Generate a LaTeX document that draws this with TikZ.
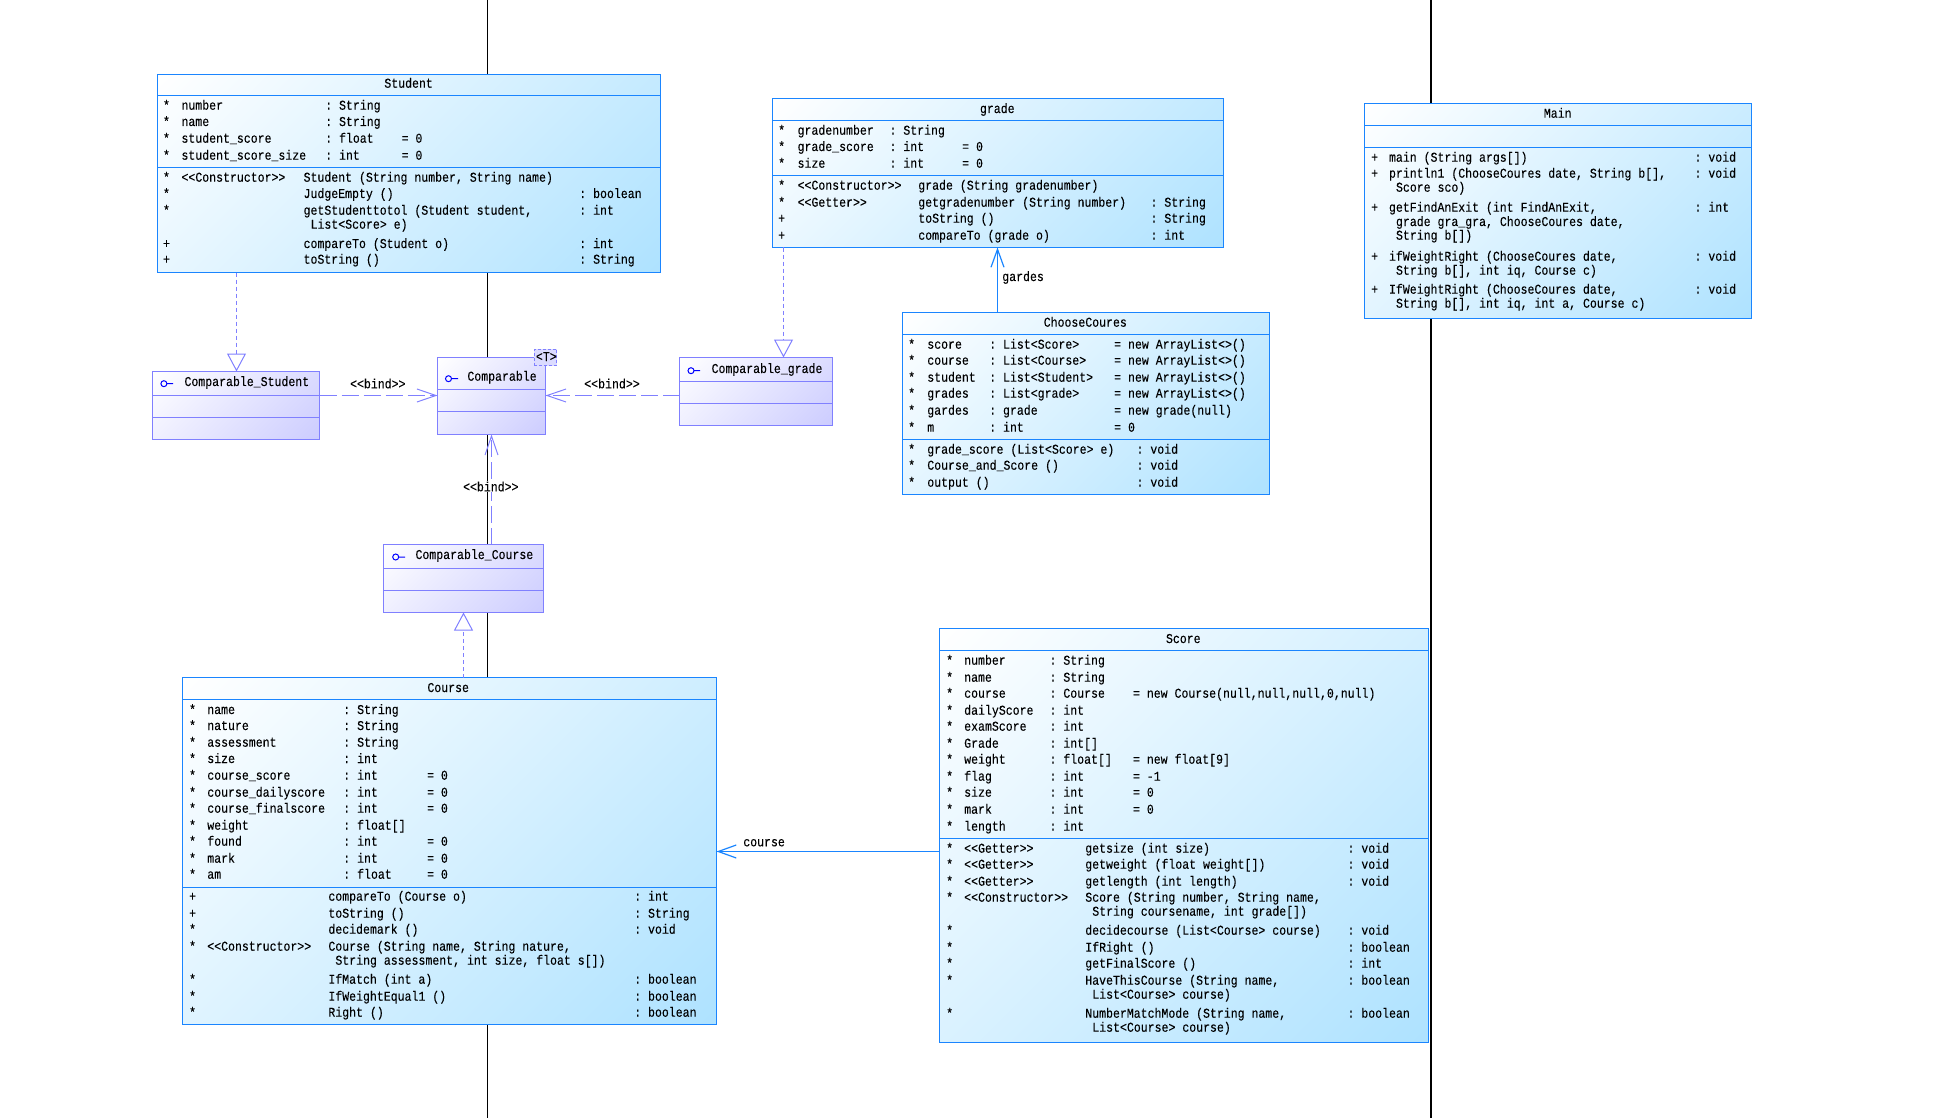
\documentclass[tikz,border=0pt]{standalone}
\usepackage{fontspec}
\setmonofont[FakeStretch=0.855,FakeBold=0.08]{Liberation Mono}
\usetikzlibrary{arrows.meta}
\definecolor{clsline}{HTML}{1A85FF}
\definecolor{clsend}{HTML}{AEE2FF}
\definecolor{ifline}{HTML}{8080FF}
\definecolor{ifend}{HTML}{CCCCFF}
\pgfdeclareverticalshading{clsgrad}{100bp}{color(0bp)=(clsend); color(14.6bp)=(clsend); color(85.4bp)=(white); color(100bp)=(white)}
\pgfdeclareverticalshading{ifgrad}{100bp}{color(0bp)=(ifend); color(14.6bp)=(ifend); color(85.4bp)=(white); color(100bp)=(white)}
\tikzset{
  lbl/.style={inner sep=0pt,outer sep=0pt,anchor=base west,text=black,font=\ttfamily\fontsize{13.5}{16}\selectfont},
  ttl/.style={lbl,anchor=base},
  boxbase/.style={rectangle,inner sep=0pt,outer sep=0pt,anchor=north west,line width=1.2pt},
  clsbox/.style={boxbase,draw=clsline,shading=clsgrad,shading angle=45},
  ifbox/.style={boxbase,draw=ifline,shading=ifgrad,shading angle=45},
  clssep/.style={line width=1.2pt,draw=clsline},
  ifsep/.style={line width=1.2pt,draw=ifline},
  lifeline/.style={black,line width=1.3pt},
  bindline/.style={ifline,line width=1pt,dash pattern=on 17pt off 5pt,-{Straight Barb[length=19pt,width=13pt]}},
  realline/.style={ifline,line width=1pt,dash pattern=on 4pt off 3pt,-{Triangle[open,length=18pt,width=19pt]}},
  assocline/.style={clsline,line width=1.2pt,-{Straight Barb[length=18pt,width=13pt]}},
  icon/.style={blue,line width=1pt},
}
\newcounter{lblc}
\newcommand{\tx}[3]{\stepcounter{lblc}\node[lbl] (l\arabic{lblc}) at (#1,#2) {#3};}
\newcommand{\ttlat}[3]{\stepcounter{lblc}\node[ttl] (l\arabic{lblc}) at (#1,#2) {#3};}
% box: name, box style, separator style, x1, x2, y1, y2, y3, y4
\newcommand{\umlbox}[9]{%
  \pgfmathsetmacro{\bw}{#5-#4}\pgfmathsetmacro{\bh}{#9-#6}%
  \node[#2,minimum width=\bw pt,minimum height=\bh pt] (#1) at (#4,#6) {};
  \draw[#3] (#1.west |- 0,#7) -- (#1.east |- 0,#7);
  \draw[#3] (#1.west |- 0,#8) -- (#1.east |- 0,#8);
}
\newcommand{\attr}[5]{\tx{\ca}{#1}{#2}\tx{\ce}{#1}{#3}\tx{\cb}{#1}{: #4}\def\tmp{#5}\ifx\tmp\empty\else\tx{\cd}{#1}{#5}\fi}
\newcommand{\meth}[5]{%
  \tx{\ca}{#1}{#2}%
  \def\tmp{#3}\ifx\tmp\empty\else\tx{\ce}{#1}{#3}\fi
  \tx{\cf}{#1}{#4}%
  \def\tmp{#5}\ifx\tmp\empty\else\tx{\cg}{#1}{#5}\fi}
\newcommand{\cont}[2]{\tx{\cf+7}{#1}{#2}}
\begin{document}
\begin{tikzpicture}[x=1pt,y=-1pt]
\useasboundingbox (0,0) rectangle (1941,1118);
\coordinate (topL) at (487.5,0);
\coordinate (botL) at (487.5,1118);
\coordinate (topR) at (1431.1,0);
\coordinate (botR) at (1431.1,1118);
\draw[lifeline] (topL) -- (botL);
\draw[lifeline] (topR) -- (botR);

% ---------- Student
\umlbox{student}{clsbox}{clssep}{157.5}{660.5}{74.5}{95.5}{167.5}{272.5}
\ttlat{408.6}{87.7}{Student}
\def\ca{163}\def\cb{325.2}\def\cd{401.6}\def\ce{181.5}\def\cf{303.6}\def\cg{579.3}
\attr{109.7}{*}{number}{String}{}
\attr{126}{*}{name}{String}{}
\attr{142.7}{*}{student\_score}{float}{= 0}
\attr{159.7}{*}{student\_score\_size}{int}{= 0}
\meth{181.7}{*}{<<Constructor>>}{Student (String number, String name)}{}
\meth{198}{*}{}{JudgeEmpty ()}{: boolean}
\meth{214.7}{*}{}{getStudenttotol (Student student,}{: int}
\cont{228.7}{List<Score> e)}
\meth{248}{+}{}{compareTo (Student o)}{: int}
\meth{263.7}{+}{}{toString ()}{: String}

% ---------- grade
\umlbox{grade}{clsbox}{clssep}{772.5}{1223.5}{98.5}{120.5}{175.5}{247.5}
\ttlat{997.3}{113}{grade}
\def\ca{778.2}\def\ce{797.6}\def\cb{889.5}\def\cd{962.2}\def\cf{918.3}\def\cg{1150.5}
\attr{134.7}{*}{gradenumber}{String}{}
\attr{151}{*}{grade\_score}{int}{= 0}
\attr{167.7}{*}{size}{int}{= 0}
\meth{189.7}{*}{<<Constructor>>}{grade (String gradenumber)}{}
\meth{206.7}{*}{<<Getter>>}{getgradenumber (String number)}{: String}
\meth{222.7}{+}{}{toString ()}{: String}
\meth{239.7}{+}{}{compareTo (grade o)}{: int}

% ---------- ChooseCoures
\umlbox{choose}{clsbox}{clssep}{902.5}{1269.5}{312.5}{334.5}{439.5}{494.5}
\ttlat{1085.3}{326.7}{ChooseCoures}
\def\ca{908.2}\def\ce{927.3}\def\cb{989.2}\def\cd{1114.2}\def\cf{927.3}\def\cg{1136.5}
\attr{348.7}{*}{score}{List<Score>}{= new ArrayList<>()}
\attr{364.7}{*}{course}{List<Course>}{= new ArrayList<>()}
\attr{381.7}{*}{student}{List<Student>}{= new ArrayList<>()}
\attr{397.7}{*}{grades}{List<grade>}{= new ArrayList<>()}
\attr{414.7}{*}{gardes}{grade}{= new grade(null)}
\attr{431.7}{*}{m}{int}{= 0}
\meth{453.7}{*}{}{grade\_score (List<Score> e)}{: void}
\meth{469.7}{*}{}{Course\_and\_Score ()}{: void}
\meth{486.7}{*}{}{output ()}{: void}

% ---------- Main
\umlbox{main}{clsbox}{clssep}{1364.5}{1751.5}{103.5}{125.5}{147.5}{318.5}
\ttlat{1557.7}{117.7}{Main}
\def\ca{1371.2}\def\cf{1389}\def\cg{1694.5}
\meth{161.7}{+}{}{main (String args[])}{: void}
\meth{177.7}{+}{}{println1 (ChooseCoures date, String b[],}{: void}
\cont{191.7}{Score sco)}
\meth{211.7}{+}{}{getFindAnExit (int FindAnExit,}{: int}
\cont{226}{grade gra\_gra, ChooseCoures date,}
\cont{239.7}{String b[])}
\meth{260.7}{+}{}{ifWeightRight (ChooseCoures date,}{: void}
\cont{274.7}{String b[], int iq, Course c)}
\meth{293.7}{+}{}{IfWeightRight (ChooseCoures date,}{: void}
\cont{307.7}{String b[], int iq, int a, Course c)}

% ---------- Course
\umlbox{course}{clsbox}{clssep}{182.5}{716.5}{677.5}{699.5}{887.5}{1024.5}
\ttlat{448.2}{692}{Course}
\def\ca{189.1}\def\ce{207.3}\def\cb{343.3}\def\cd{427.1}\def\cf{328.4}\def\cg{634.2}
\attr{714}{*}{name}{String}{}
\attr{730}{*}{nature}{String}{}
\attr{746.7}{*}{assessment}{String}{}
\attr{763}{*}{size}{int}{}
\attr{779.7}{*}{course\_score}{int}{= 0}
\attr{796.7}{*}{course\_dailyscore}{int}{= 0}
\attr{812.7}{*}{course\_finalscore}{int}{= 0}
\attr{829.7}{*}{weight}{float[]}{}
\attr{845.7}{*}{found}{int}{= 0}
\attr{862.7}{*}{mark}{int}{= 0}
\attr{878.7}{*}{am}{float}{= 0}
\meth{900.7}{+}{}{compareTo (Course o)}{: int}
\meth{917.7}{+}{}{toString ()}{: String}
\meth{933.7}{*}{}{decidemark ()}{: void}
\meth{950.7}{*}{<<Constructor>>}{Course (String name, String nature,}{}
\cont{964.7}{String assessment, int size, float s[])}
\meth{983.7}{*}{}{IfMatch (int a)}{: boolean}
\meth{1000.7}{*}{}{IfWeightEqual1 ()}{: boolean}
\meth{1016.7}{*}{}{Right ()}{: boolean}

% ---------- Score
\umlbox{score}{clsbox}{clssep}{939.5}{1428.5}{628.5}{650.5}{838.5}{1042.5}
\ttlat{1183.3}{643}{Score}
\def\ca{946.2}\def\ce{964.2}\def\cb{1049.5}\def\cd{1133}\def\cf{1085.3}\def\cg{1347.5}
\attr{664.7}{*}{number}{String}{}
\attr{681.7}{*}{name}{String}{}
\attr{697.7}{*}{course}{Course}{= new Course(null,null,null,0,null)}
\attr{714.7}{*}{dailyScore}{int}{}
\attr{730.7}{*}{examScore}{int}{}
\attr{747.7}{*}{Grade}{int[]}{}
\attr{763.7}{*}{weight}{float[]}{= new float[9]}
\attr{780.7}{*}{flag}{int}{= -1}
\attr{796.7}{*}{size}{int}{= 0}
\attr{813.7}{*}{mark}{int}{= 0}
\attr{830.7}{*}{length}{int}{}
\meth{852.7}{*}{<<Getter>>}{getsize (int size)}{: void}
\meth{868.7}{*}{<<Getter>>}{getweight (float weight[])}{: void}
\meth{885.7}{*}{<<Getter>>}{getlength (int length)}{: void}
\meth{901.7}{*}{<<Constructor>>}{Score (String number, String name,}{}
\cont{915.7}{String coursename, int grade[])}
\meth{934.7}{*}{}{decidecourse (List<Course> course)}{: void}
\meth{951.7}{*}{}{IfRight ()}{: boolean}
\meth{967.7}{*}{}{getFinalScore ()}{: int}
\meth{984.7}{*}{}{HaveThisCourse (String name,}{: boolean}
\cont{998.7}{List<Course> course)}
\meth{1017.7}{*}{}{NumberMatchMode (String name,}{: boolean}
\cont{1031.7}{List<Course> course)}

% ---------- interface boxes
\umlbox{cstudent}{ifbox}{ifsep}{152.5}{319.5}{371.5}{395.5}{417.5}{439.5}
\umlbox{comparable}{ifbox}{ifsep}{437.5}{545.5}{357.5}{389.5}{411.5}{434.5}
\umlbox{cgrade}{ifbox}{ifsep}{679.5}{832.5}{357.5}{381.5}{403.5}{425.5}
\umlbox{ccourse}{ifbox}{ifsep}{383.5}{543.5}{544.5}{568.5}{590.5}{612.5}
\tx{184.5}{386}{Comparable\_Student}
\tx{467.4}{380.7}{Comparable}
\tx{711.6}{373}{Comparable\_grade}
\tx{415.5}{559}{Comparable\_Course}
\draw[icon] (163.9,383.7) circle (3pt) (166.9,383.7) -- (173,383.7);
\draw[icon] (448.5,378.7) circle (3pt) (451.5,378.7) -- (458,378.7);
\draw[icon] (691,370.7) circle (3pt) (694,370.7) -- (700,370.7);
\draw[icon] (395.7,557) circle (3pt) (398.7,557) -- (405,557);
\node[rectangle,draw=ifline,fill=ifend!70,densely dashed,line width=.8pt,minimum width=22.5pt,minimum height=16.4pt,inner sep=0pt,outer sep=0pt] (tparam) at (545.6,357.5) {};
\ttlat{546.3}{361}{<T>}

% ---------- connectors
\coordinate (realS) at (236.5,300);
\coordinate (realG) at (783.5,300);
\coordinate (realC) at (463.5,650);
\coordinate (bindH) at (500,395.5);
\coordinate (bindV) at (491.5,500);
\coordinate (assocG) at (997.5,300);
\coordinate (assocC) at (800,851.5);
\draw[realline] (realS |- student.south) -- (realS |- cstudent.north);
\draw[realline] (realG |- grade.south) -- (realG |- cgrade.north);
\draw[realline] (realC |- course.north) -- (realC |- ccourse.south);
\draw[bindline] (cstudent.east |- bindH) -- (comparable.west |- bindH);
\draw[bindline] (cgrade.west |- bindH) -- (comparable.east |- bindH);
\draw[bindline] (bindV |- ccourse.north) -- (bindV |- comparable.south);
\draw[assocline] (assocG |- choose.north) -- (assocG |- grade.south);
\draw[assocline] (score.west |- assocC) -- (course.east |- assocC);

% ---------- connector labels
\ttlat{377.8}{388.3}{<<bind>>}
\ttlat{612}{388.3}{<<bind>>}
\stepcounter{lblc}\node[ttl,fill=white,inner sep=1pt] (midbind) at (490.8,491.3) {<<bind>>};
\tx{1002.3}{281}{gardes}
\tx{743.3}{846.3}{course}
\end{tikzpicture}
\end{document}
